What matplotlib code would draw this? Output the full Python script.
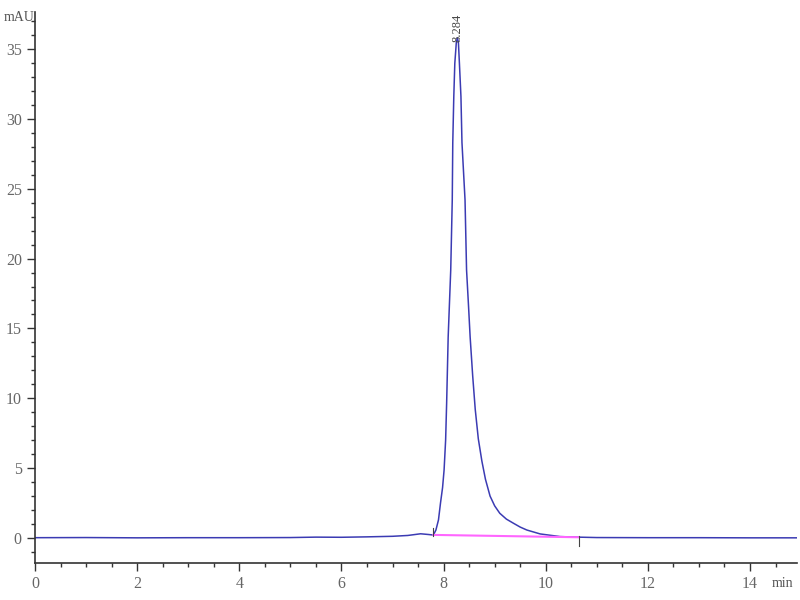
import numpy as np
import matplotlib.pyplot as plt
from matplotlib.ticker import MultipleLocator

# chromatogram trace (time in min, signal in mAU)
time_min = [0.0, 1.0, 2.0, 3.0, 4.0, 5.0, 5.5, 6.0, 6.5, 7.0, 7.3, 7.55, 7.7, 7.80,
            7.85, 7.90, 7.94, 7.98, 8.01, 8.04, 8.06, 8.09, 8.14, 8.17, 8.18, 8.20, 8.22, 8.25,
            8.27, 8.29, 8.31, 8.34, 8.36, 8.42, 8.45, 8.49, 8.52, 8.57, 8.62, 8.68,
            8.75, 8.82, 8.91, 9.00, 9.10, 9.23, 9.37, 9.50, 9.63, 9.89, 10.28, 10.63,
            11.0, 12.0, 13.0, 14.0, 14.92]
signal_mau = [0.02, 0.03, 0.01, 0.02, 0.02, 0.03, 0.06, 0.05, 0.08, 0.12, 0.18, 0.3, 0.25, 0.21,
              0.57, 1.29, 2.51, 3.6, 4.87, 7.0, 9.66, 14.39, 19.18, 24.2, 28.3, 31.6, 33.98, 35.5,
              35.8, 35.5, 33.98, 31.6, 28.3, 24.2, 19.18, 16.5, 14.39, 11.6, 9.2, 7.1,
              5.5, 4.2, 3.0, 2.3, 1.77, 1.35, 1.05, 0.78, 0.57, 0.29, 0.10, 0.06,
              0.03, 0.02, 0.02, 0.01, 0.01]

# integration baseline and peak label
base_t = [7.80, 10.65]
base_y = [0.22, 0.05]
peak_t = 8.284
peak_y = 35.8

fig = plt.figure(figsize=(8, 6), dpi=100)
ax = fig.add_axes([0.04375, 0.0617, 0.95250, 0.9183])

ax.plot(time_min, signal_mau, color='#3b3bb3', linewidth=1.1)
ax.plot(base_t, base_y, color='#ff66ff', linewidth=1.5)
ax.plot([base_t[0], base_t[0]], [base_y[0] - 0.1, base_y[0] + 0.5], color='#444444', linewidth=0.8)
ax.plot([base_t[1], base_t[1]], [base_y[1] - 0.6, base_y[1] + 0.1], color='#444444', linewidth=0.8)

ax.text(peak_t - 0.01, peak_y - 0.3, '%.3f' % peak_t, rotation=90, ha='center', va='bottom',
        fontsize=9, color='#444444', family='Liberation Serif')

ax.set_xlim(0, 14.92)
ax.set_ylim(-1.79, 37.65)
ax.xaxis.set_major_locator(MultipleLocator(2))
ax.xaxis.set_minor_locator(MultipleLocator(0.5))
ax.yaxis.set_major_locator(MultipleLocator(5))
ax.yaxis.set_minor_locator(MultipleLocator(1))

for s in ['top', 'right']:
    ax.spines[s].set_visible(False)
for s in ['left', 'bottom']:
    ax.spines[s].set_color('#333333')
    ax.spines[s].set_linewidth(1.2)

ax.tick_params(which='major', direction='out', length=6, width=1, colors='#333333',
               labelcolor='#666666', labelsize=11.5)
ax.tick_params(which='minor', direction='out', length=3, width=1, colors='#333333')
for lab in ax.get_xticklabels() + ax.get_yticklabels():
    lab.set_family('Liberation Serif')

fig.text(0.005, 0.965, 'mAU', fontsize=10, color='#555555', family='Liberation Serif')
fig.text(0.965, 0.022, 'min', fontsize=10, color='#555555', family='Liberation Serif')

fig.savefig('out.png', dpi=100)
